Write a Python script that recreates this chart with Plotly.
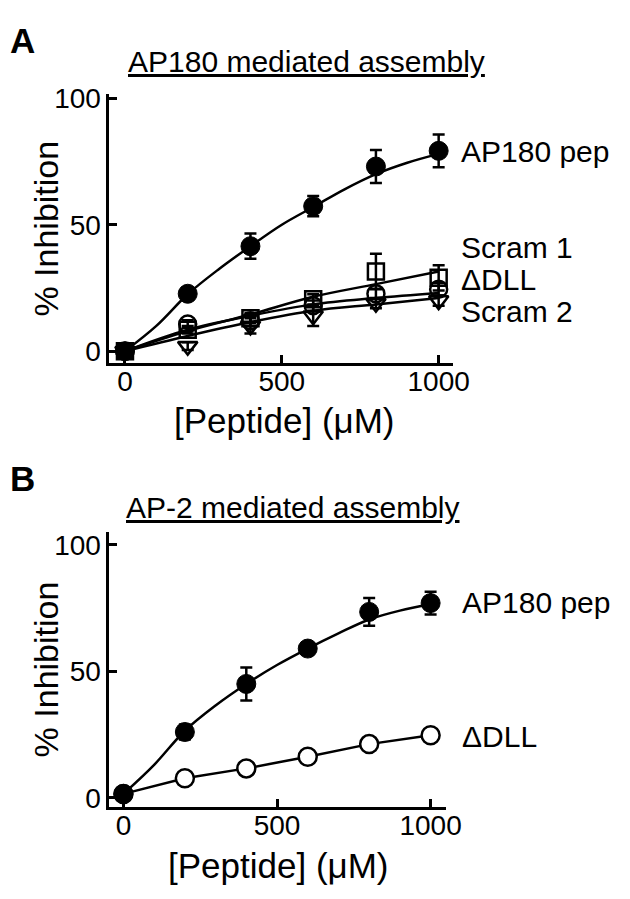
import plotly.graph_objects as go

# page body has an 8px margin, so the figure is sized to fit the 630x899 window
OFF = 8
FW, FH = 614, 880
FONT = "Liberation Sans, Arial, Helvetica, sans-serif"

# ---------------- data ----------------
dose = [0, 200, 400, 600, 800, 1000]
fit_x = [0, 100, 200, 300, 400, 500, 600, 700, 800, 900, 1000]

# Panel A : AP180 mediated assembly
a_ap180 = [0, 22.7, 41.5, 57.3, 73, 79.2]
a_ap180_err = [1, 2.5, 5, 4, 6.5, 6.5]
a_scram1 = [0, 8.5, 13, 20.5, 31.5, 29]
a_scram1_err = [1, 1.5, 2, 2, 7, 5]
a_dll = [0, 10.7, 12, 18, 22.7, 24.5]
a_dll_err = [1, 1.5, 2, 2, 2, 2.5]
a_scram2 = [0, 2, 10, 14, 19, 20]
a_scram2_err = [1, 1.5, 3, 4, 2, 2]

a_ap180_fit = [0, 10, 22.5, 32.5, 41.5, 50, 57, 64, 70, 74.5, 78]
a_scram1_fit = [0, 8, 14.5, 21.5, 26.5, 31.5]
a_dll_fit = [0, 8.5, 14, 18.5, 21, 23]
a_scram2_fit = [0, 6, 11.5, 16, 18.5, 21]

# Panel B : AP-2 mediated assembly
b_ap180 = [1.5, 26, 45, 59, 73.5, 77]
b_ap180_err = [1, 3, 6.5, 2, 5.5, 4.5]
b_dll = [1.5, 7.7, 11.6, 16.2, 21.2, 24.7]
b_ap180_fit = [1.5, 13, 26.5, 36.5, 45, 52.5, 59, 65, 70.5, 74, 76.5]

x_ticks = [0, 500, 1000]
y_ticks = [0, 50, 100]

series_labels_a = ["AP180 pep", "Scram 1", "\u0394DLL", "Scram 2"]
series_labels_b = ["AP180 pep", "\u0394DLL"]
titles = ["<u>AP180 mediated assembly</u>", "<u>AP-2 mediated assembly</u>"]
panel_letters = ["A", "B"]
x_title = "[Peptide] (\u03bcM)"
y_title = "% Inhibition"


def px(x):
    return (x - OFF) / FW


def py(y):
    return 1 - (y - OFF) / FH


LW = 2.5


def err(e):
    return dict(type="data", array=e, visible=True, color="black",
                thickness=LW, width=6)


fig = go.Figure()

# ---- Panel A ----
for fy in [a_scram1_fit, a_dll_fit, a_scram2_fit]:
    fig.add_trace(go.Scatter(x=dose, y=fy, mode="lines", xaxis="x", yaxis="y",
                             line=dict(color="black", width=LW, shape="spline"),
                             hoverinfo="skip", showlegend=False))
fig.add_trace(go.Scatter(x=fit_x, y=a_ap180_fit, mode="lines", xaxis="x", yaxis="y",
                         line=dict(color="black", width=LW, shape="spline"),
                         hoverinfo="skip", showlegend=False))

fig.add_trace(go.Scatter(x=dose, y=a_scram1, mode="markers", xaxis="x", yaxis="y",
                         name="Scram 1", error_y=err(a_scram1_err),
                         marker=dict(symbol="square-open", size=16, color="black",
                                     line=dict(color="black", width=LW)),
                         showlegend=False))
fig.add_trace(go.Scatter(x=dose, y=a_dll, mode="markers", xaxis="x", yaxis="y",
                         name="\u0394DLL", error_y=err(a_dll_err),
                         marker=dict(symbol="circle-open", size=17, color="black",
                                     line=dict(color="black", width=LW)),
                         showlegend=False))
fig.add_trace(go.Scatter(x=dose, y=a_scram2, mode="markers", xaxis="x", yaxis="y",
                         name="Scram 2", error_y=err(a_scram2_err),
                         marker=dict(symbol="triangle-down-open", size=17, color="black",
                                     line=dict(color="black", width=LW)),
                         showlegend=False))
fig.add_trace(go.Scatter(x=dose, y=a_ap180, mode="markers", xaxis="x", yaxis="y",
                         name="AP180 pep", error_y=err(a_ap180_err),
                         marker=dict(symbol="circle", size=19, color="black",
                                     line=dict(color="black", width=1)),
                         showlegend=False))

# ---- Panel B ----
fig.add_trace(go.Scatter(x=fit_x, y=b_ap180_fit, mode="lines", xaxis="x2", yaxis="y2",
                         line=dict(color="black", width=LW, shape="spline"),
                         hoverinfo="skip", showlegend=False))
fig.add_trace(go.Scatter(x=dose, y=b_dll, mode="lines+markers", xaxis="x2", yaxis="y2",
                         name="\u0394DLL",
                         line=dict(color="black", width=LW),
                         marker=dict(symbol="circle", size=18, color="white",
                                     line=dict(color="black", width=LW)),
                         showlegend=False))
fig.add_trace(go.Scatter(x=dose, y=b_ap180, mode="markers", xaxis="x2", yaxis="y2",
                         name="AP180 pep", error_y=err(b_ap180_err),
                         marker=dict(symbol="circle", size=19, color="black",
                                     line=dict(color="black", width=1)),
                         showlegend=False))

axis_common = dict(showline=True, linecolor="black", linewidth=LW, ticks="inside",
                   ticklen=8, tickwidth=LW, tickcolor="black", showgrid=False,
                   zeroline=False, tickfont=dict(family=FONT, size=28, color="black"),
                   fixedrange=True)

fig.update_layout(
    width=FW, height=FH, margin=dict(l=0, r=0, t=0, b=0),
    paper_bgcolor="white", plot_bgcolor="white", showlegend=False,
    font=dict(family=FONT, color="black"),
    xaxis=dict(domain=[px(112), px(465)], range=[-50, 1046], anchor="y",
               tickvals=x_ticks, ticklabelstandoff=-8, **axis_common),
    yaxis=dict(domain=[py(359), py(85)], range=[-4.6, 101.5], anchor="x",
               tickvals=y_ticks, ticklabelstandoff=0, **axis_common),
    xaxis2=dict(domain=[px(112), px(458)], range=[-46, 1051], anchor="y2",
                tickvals=x_ticks, ticklabelstandoff=-8, **axis_common),
    yaxis2=dict(domain=[py(812), py(532)], range=[-3.5, 105], anchor="x2",
                tickvals=y_ticks, ticklabelstandoff=0, **axis_common),
)

ann = []


def text(t, x, y, size, xanchor="center", yanchor="middle", bold=False, angle=0):
    ann.append(dict(text=("<b>%s</b>" % t) if bold else t, x=px(x), y=py(y),
                    xref="paper", yref="paper", xanchor=xanchor, yanchor=yanchor,
                    showarrow=False, textangle=angle,
                    font=dict(family=FONT, size=size, color="black")))


# panel letters and titles
text(panel_letters[0], 8, 8, 35, xanchor="left", yanchor="top", bold=True)
text(panel_letters[1], 8, 455, 35, xanchor="left", yanchor="top", bold=True)
text(titles[0], 314, 51, 30)
text(titles[1], 301, 507, 30)

# axis titles
text(y_title, 47, 222, 34, angle=-90)
text(y_title, 47, 672, 34, angle=-90)
text(x_title, 292, 418, 35)
text(x_title, 286, 872, 35)

# series labels
for lab, yy in zip(series_labels_a, [143, 241, 274, 307]):
    text(lab, 471, yy, 30, xanchor="left")
for lab, yy in zip(series_labels_b, [604, 740]):
    text(lab, 472, yy, 30, xanchor="left")

fig.update_layout(annotations=ann)
fig.write_html("out.html")
